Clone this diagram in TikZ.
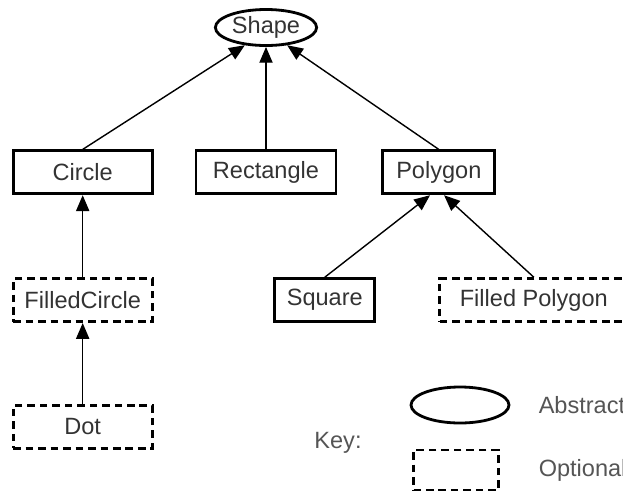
\documentclass[tikz,border=0pt]{standalone}
\usepackage{fontspec}
\setmainfont{Liberation Sans}
\usepackage{tikz}
\usetikzlibrary{positioning,arrows.meta,shapes.geometric}
\definecolor{textgray}{HTML}{333333}
\definecolor{keygray}{HTML}{555555}

\begin{document}
\begin{tikzpicture}[
  font=\fontsize{13.4}{16}\selectfont\color{textgray},
  box/.style={rectangle, draw=black, line width=1.6pt, minimum height=0.86cm,
    inner sep=2pt, align=center},
  optbox/.style={box, dash pattern=on 4.3pt off 2.8pt},
  abstract/.style={ellipse, draw=black, line width=1.6pt, inner sep=1pt,
    minimum width=2.02cm, minimum height=0.6cm},
  arrow/.style={-{Triangle[length=9pt,width=7.5pt]}, line width=0.8pt, color=black},
  keytext/.style={inner sep=0pt, color=keygray}
]
\path[use as bounding box, clip] (0,0) rectangle (12.46,-9.92);

% Row 0: abstract root
\node[abstract] (shape) at (5.32,-0.55) {Shape};

% Row 1
\node[box, minimum width=2.8cm, below=2.05cm of shape] (rect) {Rectangle};
\node[box, minimum width=2.78cm, left=0.82cm of rect] (circle) {Circle};
\node[box, minimum width=2.24cm, right=0.88cm of rect] (polygon) {Polygon};

% Row 2
\node[optbox, minimum width=2.78cm, below=1.64cm of circle] (filledcircle) {FilledCircle};
\node[box, minimum width=2cm, below=1.64cm of polygon, xshift=-2.28cm] (square) {Square};
\node[optbox, minimum width=3.76cm, below=1.64cm of polygon, xshift=1.9cm] (filledpoly) {Filled Polygon};

% Row 3
\node[optbox, minimum width=2.78cm, below=1.62cm of filledcircle] (dot) {Dot};

% Arrows
\draw[arrow] (circle.north) -- (shape.220);
\draw[arrow] (rect.north) -- (shape.south);
\draw[arrow] (polygon.north) -- (shape.320);
\draw[arrow] (filledcircle.north) -- (circle.south);
\draw[arrow] (dot.north) -- (filledcircle.south);
\draw[arrow] (square.north) -- ([xshift=-5pt]polygon.south);
\draw[arrow] (filledpoly.north) -- ([xshift=3pt]polygon.south);

% Key
\node[keytext] (key) at (6.76,-8.86) {Key:};
\node[abstract, minimum width=1.96cm, minimum height=0.72cm] (keyabs) at (9.2,-8.1) {};
\node[keytext, right=0.56cm of keyabs] (keyabstext) {Abstract};
\node[optbox, minimum width=1.7cm, minimum height=0.8cm] (keyopt) at (9.12,-9.4) {};
\node[keytext, right=0.77cm of keyopt] (keyopttext) {Optional};

\end{tikzpicture}
\end{document}
